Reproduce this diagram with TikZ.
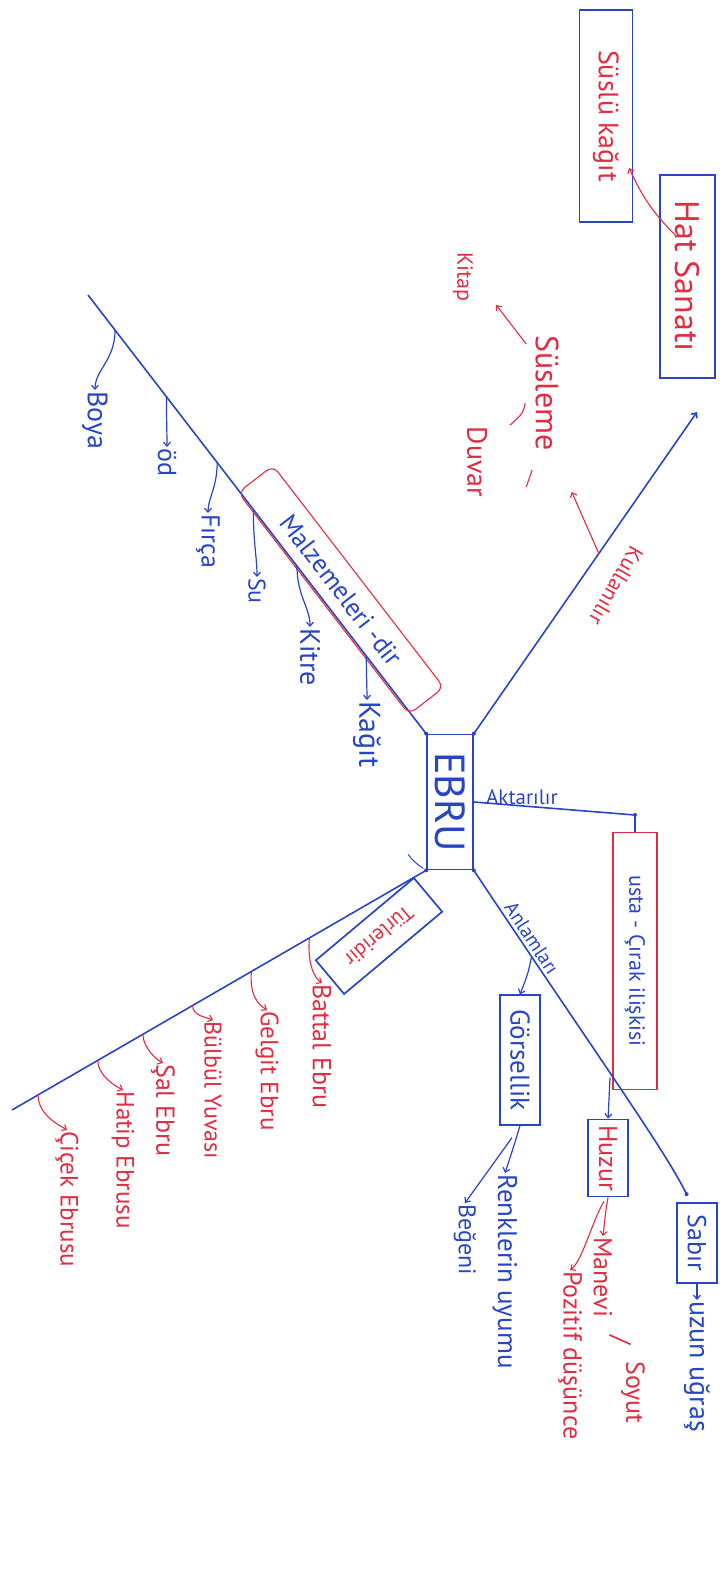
\documentclass[tikz,border=0pt]{standalone}
\usepackage{fontspec}
\setmainfont{PT Sans}
\usetikzlibrary{calc,arrows.meta}
\definecolor{bink}{RGB}{40,70,195}
\definecolor{rink}{RGB}{225,45,65}
\newcommand{\fsz}[1]{\fontsize{#1}{#1}\selectfont}
\begin{document}
\begin{tikzpicture}[x=1pt,y=-1pt,
 bl/.style={draw=bink,line width=1.6pt},
 rl/.style={draw=rink,line width=1.1pt},
 barr/.style={draw=bink,line width=1.2pt,-{Straight Barb[length=4pt,width=7pt]}},
 rarr/.style={draw=rink,line width=1.1pt,-{Straight Barb[length=4pt,width=7pt]}},
 vt/.style={rotate=-90},
 btxt/.style={inner sep=1pt,text=bink},
 rtxt/.style={inner sep=1pt,text=rink},
 bbox/.style={draw=bink,line width=1.7pt,inner sep=2pt},
 rbox/.style={draw=rink,line width=1.1pt,inner sep=2pt},
 dot/.style={circle,fill=bink,inner sep=0pt,minimum size=4pt}
]
\fill[white] (0,0) rectangle (720,1569);
\useasboundingbox (0,0) rectangle (720,1569);

% centre
\node[bbox,vt,minimum width=135pt,minimum height=46pt,text=bink,font=\fsz{42}] (ebru) at (450,802) {EBRU};
\foreach \a in {north west,north east,south west,south east} \node[dot] at (ebru.\a) {};

% Hat sanati / Suslu kagit
\node[bbox,vt,minimum width=203pt,minimum height=55pt,text=rink,font=\fsz{34},line width=2pt] (hat) at (687,276) {Hat Sanatı};
\node[bbox,vt,minimum width=212pt,minimum height=53pt,text=rink,font=\fsz{28},line width=1.2pt] (sus) at (606,116) {Süslü kağıt};
\draw[rarr] ($(hat.south west)+(17,62)$) to[bend left=10] ($(sus.north)+(-4,52)$);

% Kullanilir
\coordinate (kulEnd) at (697,412);
\draw[bl,-{Straight Barb[length=4pt,width=7pt]}] (ebru.north west) -- (kulEnd);
\node[rtxt,rotate=-120,font=\fsz{22}] (kul) at (616,586) {Kullanılır};
\node[rtxt,vt,font=\fsz{32}] (susl) at (547,393) {Süsleme};
\node[rtxt,vt,font=\fsz{28}] (duvar) at (477,462) {Duvar};
\node[rtxt,vt,font=\fsz{22}] (kitap) at (463,277) {Kitap};
\coordinate (kulA) at ($(ebru.north west)!0.56!(kulEnd)$);
\draw[rarr] (kulA) -- ($(susl.north east)+(12,40)$);
\draw[rl] ($(susl.south east)+(-2,18)$) -- ++(-6,17);
\draw[rl] ($(susl.south)+(-9,10)$) .. controls +(-2,10) .. ($(susl.south)+(-24,32)$);
\draw[rarr] ($(susl.south west)+(-8,10)$) -- ($(kitap.north east)+(22,2)$);

% Aktarilir
\node[rbox,vt,minimum width=257pt,minimum height=44pt,text=bink,font=\fsz{22}] (usta) at (635,961) {usta - Çırak ilişkisi};
\coordinate (ak) at (635,815);
\draw[bl] (ebru.north) -- (ak) -- (usta.west);
\node[dot] at (ak) {};
\node[btxt,font=\fsz{21},anchor=south west] (akl) at (485,806) {Aktarılır};

% Malzemeleri
\coordinate (mzEnd) at (88,295);
\draw[bl] (ebru.south west) -- (mzEnd);
\node[rbox,rotate=-52.4,minimum width=280pt,minimum height=44pt,rounded corners=8pt,text=bink,font=\fsz{26}] (mz) at (341,590) {Malzemeleri -dir};
\coordinate (m1) at ($(ebru.south west)!0.177!(mzEnd)$);
\coordinate (m2) at ($(ebru.south west)!0.382!(mzEnd)$);
\coordinate (m3) at ($(ebru.south west)!0.511!(mzEnd)$);
\coordinate (m4) at ($(ebru.south west)!0.618!(mzEnd)$);
\coordinate (m5) at ($(ebru.south west)!0.768!(mzEnd)$);
\coordinate (m6) at ($(ebru.south west)!0.92!(mzEnd)$);
\node[btxt,vt,font=\fsz{30},anchor=west] (kagit) at (367,700) {Kağıt};
\node[btxt,vt,font=\fsz{28},anchor=west] (kitre) at (310,627) {Kitre};
\node[btxt,vt,font=\fsz{24},anchor=west] (su) at (257,577) {Su};
\node[btxt,vt,font=\fsz{26},anchor=west] (firca) at (208,513) {Fırça};
\node[btxt,vt,font=\fsz{26},anchor=west] (od) at (167,447) {öd};
\node[btxt,vt,font=\fsz{28},anchor=west] (boya) at (95,390) {Boya};
\draw[barr] (m1) .. controls +(0,14) and +(0,-10) .. (kagit.west);
\draw[barr] (m2) .. controls +(0,30) and +(0,-20) .. (kitre.west);
\draw[barr] (m3) .. controls +(0,35) and +(0,-20) .. (su.west);
\draw[barr] (m4) .. controls +(0,25) and +(0,-15) .. (firca.west);
\draw[barr] (m5) .. controls +(0,25) and +(0,-15) .. (od.west);
\draw[barr] (m6) .. controls +(0,30) and +(0,-20) .. (boya.west);

% Turleri
\coordinate (trEnd) at (12,1110);
\draw[bl] (ebru.south east) -- (trEnd);
\draw[bl,line width=1pt] ($(ebru.south east)+(-3,-2)$) .. controls +(-6,-4) and +(4,6) .. ($(ebru.south east)+(-18,-16)$);
\node[bbox,rotate=-140,minimum width=128pt,minimum height=44pt,text=rink,font=\fsz{21}] (tur) at (379,936) {Türleridir};
\coordinate (t1) at ($(ebru.south east)!0.282!(trEnd)$);
\coordinate (t2) at ($(ebru.south east)!0.422!(trEnd)$);
\coordinate (t3) at ($(ebru.south east)!0.564!(trEnd)$);
\coordinate (t4) at ($(ebru.south east)!0.684!(trEnd)$);
\coordinate (t5) at ($(ebru.south east)!0.793!(trEnd)$);
\coordinate (t6) at ($(ebru.south east)!0.937!(trEnd)$);
\node[rtxt,vt,font=\fsz{26},anchor=west] (battal) at (322,983) {Battal Ebru};
\node[rtxt,vt,font=\fsz{25},anchor=west] (gelgit) at (267,1010) {Gelgit Ebru};
\node[rtxt,vt,font=\fsz{24},anchor=west] (bulbul) at (213,1020) {Bülbül Yuvası};
\node[rtxt,vt,font=\fsz{26},anchor=west] (sal) at (163,1063) {Şal Ebru};
\node[rtxt,vt,font=\fsz{25},anchor=west] (hatip) at (123,1090) {Hatip Ebrusu};
\node[rtxt,vt,font=\fsz{25},anchor=west] (cicek) at (67,1130) {Çiçek Ebrusu};
\draw[rarr] (t1) .. controls +(-2,25) and +(-8,-5) .. (battal.west);
\draw[rarr] (t2) .. controls +(-2,25) and +(-8,-5) .. (gelgit.west);
\draw[rarr] (t3) .. controls +(0,10) and +(-8,-3) .. (bulbul.west);
\draw[rarr] (t4) .. controls +(0,12) and +(-8,-4) .. (sal.west);
\draw[rarr] (t5) .. controls +(0,15) and +(-8,-4) .. (hatip.west);
\draw[rarr] (t6) .. controls +(0,20) and +(-8,-5) .. (cicek.west);

% Anlamlari
\node[bbox,vt,minimum width=130pt,minimum height=40pt,text=bink,font=\fsz{27},line width=1.2pt] (gor) at (520,1060) {Görsellik};
\node[bbox,vt,minimum width=77pt,minimum height=40pt,text=rink,font=\fsz{26}] (huz) at (608,1158) {Huzur};
\node[bbox,vt,minimum width=80pt,minimum height=40pt,text=bink,font=\fsz{26}] (sabir) at (697,1243) {Sabır};
\coordinate (sabTop) at ($(sabir.south west)!0.25!(sabir.north west)+(0,-8)$);
\draw[bl] (ebru.north east) .. controls (600,1060) and (665,1150) .. (sabTop);
\node[dot] at (sabTop) {};
\node[btxt,rotate=-57,font=\fsz{20}] (anl) at (532,938) {Anlamları};
\draw[barr] ($(ebru.north east)!0.27!(sabTop)$) .. controls +(-3,15) .. (gor.west);
\draw[barr] ($(ebru.north east)!0.64!(sabTop)$) .. controls +(0,20) .. (huz.west);

\node[btxt,vt,font=\fsz{28},anchor=west] (uzun) at (697,1300) {uzun uğraş};
\draw[barr] (sabir.east) -- (uzun.west);

\node[rtxt,vt,font=\fsz{26},anchor=west] (manevi) at (603,1236) {Manevi};
\node[rtxt,vt,font=\fsz{26}] (sl) at (620,1340) {/};
\node[rtxt,vt,font=\fsz{26},anchor=west] (soyut) at (633,1360) {Soyut};
\draw[rarr] (huz.east) .. controls +(-2,12) .. (manevi.west);
\node[rtxt,vt,font=\fsz{26},anchor=west] (poz) at (570,1270) {Pozitif düşünce};
\draw[rarr] ($(huz.east)+(-4,4)$) .. controls +(-12,20) and +(12,-8) .. (poz.west);

\node[btxt,vt,font=\fsz{27},anchor=west] (renk) at (505,1173) {Renklerin uyumu};
\draw[barr] (gor.east) .. controls +(-6,20) .. (renk.west);
\node[btxt,vt,font=\fsz{24},anchor=west] (beg) at (465,1203) {Beğeni};
\draw[barr] ($(gor.east)+(-8,12)$) -- (beg.west);
\end{tikzpicture}
\end{document}
